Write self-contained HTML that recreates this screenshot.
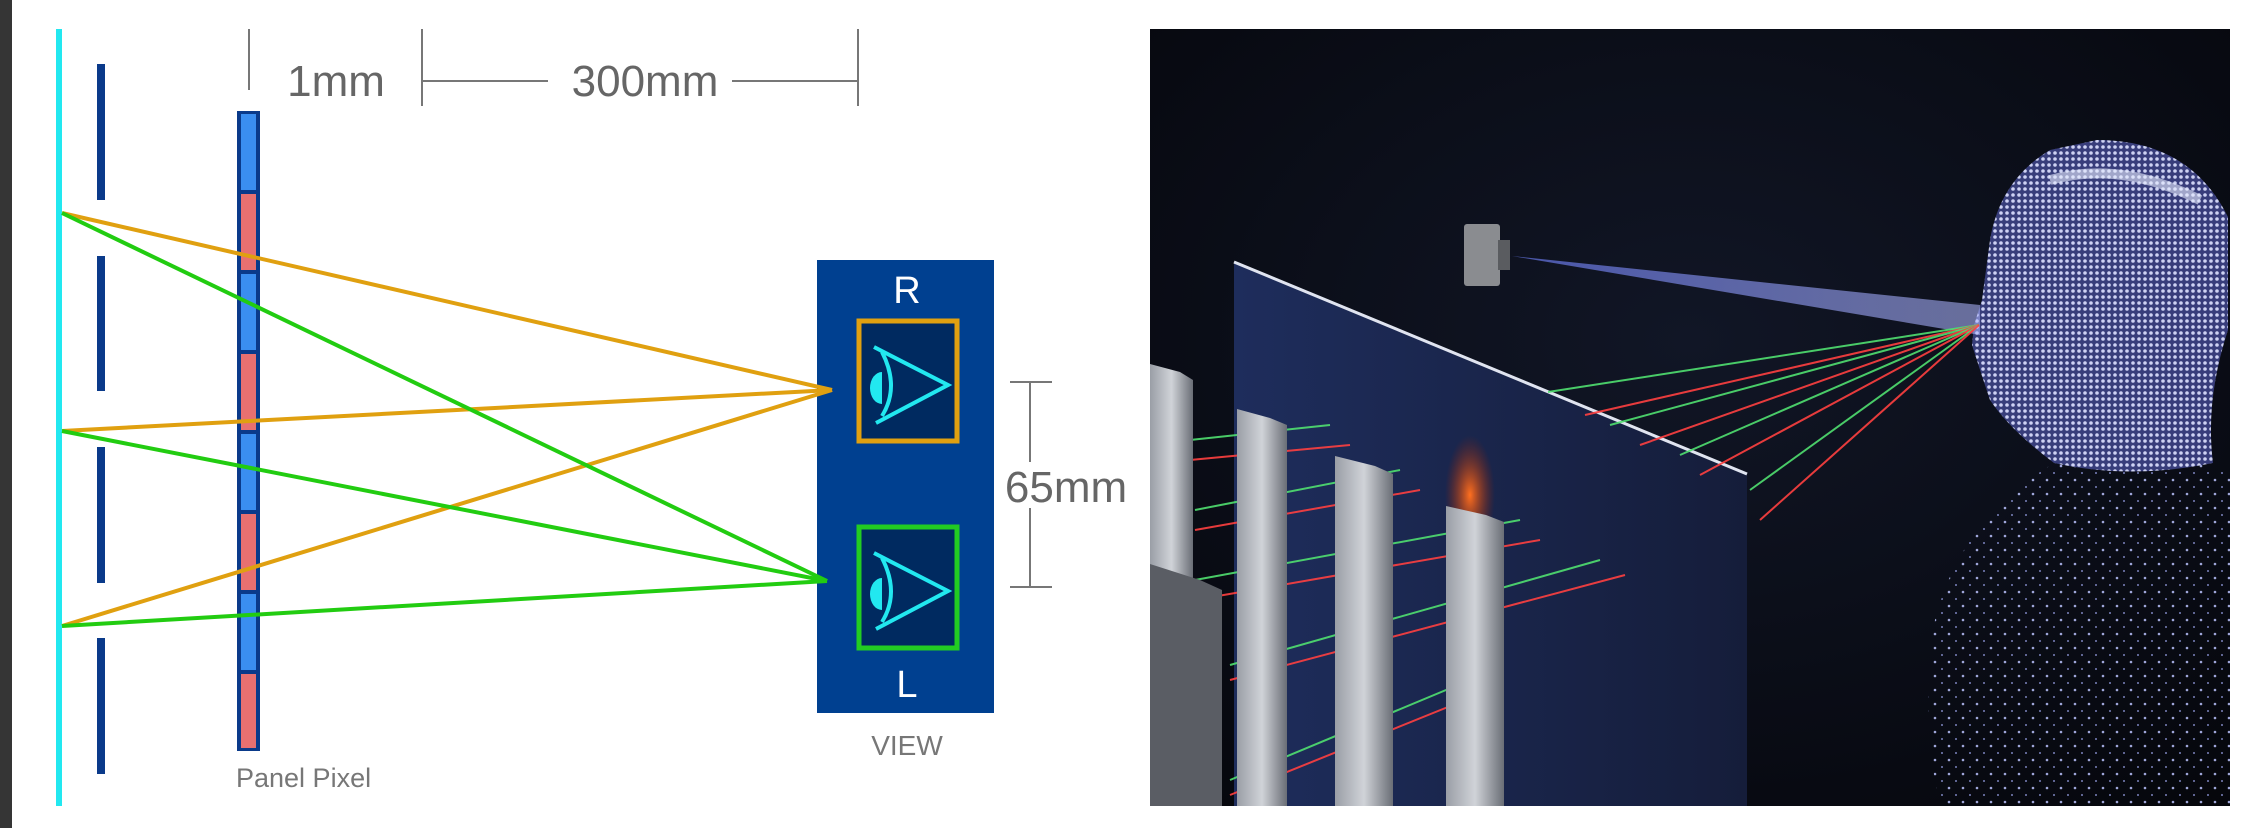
<!DOCTYPE html>
<html><head><meta charset="utf-8"><style>
html,body{margin:0;padding:0;background:#fff;width:2268px;height:828px;overflow:hidden}
svg{display:block}
text{font-family:"Liberation Sans",sans-serif}
</style></head><body>
<svg width="2268" height="828" viewBox="0 0 2268 828" xmlns="http://www.w3.org/2000/svg">
<defs>
<clipPath id="photo"><rect x="1150" y="29" width="1080" height="777"/></clipPath>
<radialGradient id="bg" cx="0.5" cy="0.4" r="0.8"><stop offset="0" stop-color="#111626"/><stop offset="1" stop-color="#05060b"/></radialGradient>
<linearGradient id="panel" x1="0" y1="0" x2="1" y2="0"><stop offset="0" stop-color="#1e2d5c"/><stop offset="1" stop-color="#151d3a"/></linearGradient>
<linearGradient id="bar" x1="0" y1="0" x2="1" y2="0"><stop offset="0" stop-color="#9a9ea6"/><stop offset="0.5" stop-color="#d0d3d8"/><stop offset="1" stop-color="#6a6e76"/></linearGradient>
<pattern id="dots" width="6" height="6" patternUnits="userSpaceOnUse"><rect width="6" height="6" fill="#3a4080"/><circle cx="3" cy="3" r="1.8" fill="#d8dcff"/></pattern>
<pattern id="sdots" width="14" height="14" patternUnits="userSpaceOnUse"><circle cx="3" cy="4" r="1.3" fill="#b0b8f0"/><circle cx="10" cy="11" r="1" fill="#8890d0"/></pattern>
<radialGradient id="fire" cx="0.5" cy="0.5" r="0.5"><stop offset="0" stop-color="#ff7020"/><stop offset="1" stop-color="#a02000" stop-opacity="0"/></radialGradient>
<linearGradient id="beam" x1="0" y1="0" x2="1" y2="0"><stop offset="0" stop-color="#6070e0" stop-opacity="0.9"/><stop offset="1" stop-color="#b0b8ff" stop-opacity="0.7"/></linearGradient>
</defs>
<rect x="0" y="0" width="12" height="828" fill="#353535"/>
<g stroke="#777" stroke-width="2">
<line x1="249" y1="29" x2="249" y2="90"/>
<line x1="422" y1="29" x2="422" y2="106"/>
<line x1="858" y1="29" x2="858" y2="106"/>
<line x1="422" y1="81" x2="548" y2="81"/>
<line x1="732" y1="81" x2="858" y2="81"/>
<line x1="1030" y1="382" x2="1030" y2="462"/>
<line x1="1030" y1="508" x2="1030" y2="587"/>
<line x1="1010" y1="382" x2="1052" y2="382"/>
<line x1="1010" y1="587" x2="1052" y2="587"/>
</g>
<g fill="#666" font-size="44">
<text x="336" y="96" text-anchor="middle">1mm</text>
<text x="645" y="96" text-anchor="middle">300mm</text>
<text x="1066" y="502" text-anchor="middle">65mm</text>
</g>
<text x="907" y="755" font-size="28" fill="#777" text-anchor="middle">VIEW</text>
<text x="236" y="787" font-size="27" fill="#777">Panel Pixel</text>
<rect x="56" y="29" width="6" height="777" fill="#22e8f0"/>
<g fill="#0a3a8a">
<rect x="97" y="64" width="8" height="136"/>
<rect x="97" y="256" width="8" height="135"/>
<rect x="97" y="447" width="8" height="136"/>
<rect x="97" y="638" width="8" height="136"/>
</g>
<rect x="237" y="111" width="23" height="640" fill="#0a3a8a"/>
<g stroke="#0a3a8a" stroke-width="2">
<rect x="240" y="113" width="17" height="78" fill="#3a8ef0"/>
<rect x="240" y="193" width="17" height="78" fill="#e87070"/>
<rect x="240" y="273" width="17" height="78" fill="#3a8ef0"/>
<rect x="240" y="353" width="17" height="78" fill="#e87070"/>
<rect x="240" y="433" width="17" height="78" fill="#3a8ef0"/>
<rect x="240" y="513" width="17" height="78" fill="#e87070"/>
<rect x="240" y="593" width="17" height="78" fill="#3a8ef0"/>
<rect x="240" y="673" width="17" height="76" fill="#e87070"/>
</g>
<rect x="817" y="260" width="177" height="453" fill="#004090"/>
<text x="907" y="303" font-size="38" fill="#fff" text-anchor="middle">R</text>
<text x="907" y="697" font-size="38" fill="#fff" text-anchor="middle">L</text>
<rect x="859" y="321" width="98" height="120" fill="#002a60" stroke="#e0a010" stroke-width="5"/>
<rect x="859" y="527" width="98" height="121" fill="#002a60" stroke="#22cc22" stroke-width="5"/>
<g stroke="#22e8f0" stroke-width="4" fill="none">
<polyline points="874,347 948,385 876,423"/>
<path d="M882,352 Q900,387 882,416"/>
<polyline points="874,553 948,591 876,629"/>
<path d="M882,558 Q900,593 882,622"/>
</g>
<g fill="#22e8f0">
<path d="M882,372 A12,16 0 0 0 882,404 Z"/>
<path d="M882,578 A12,16 0 0 0 882,610 Z"/>
</g>
<g stroke="#e0a010" stroke-width="4">
<line x1="62" y1="213" x2="832" y2="390"/>
<line x1="62" y1="431" x2="832" y2="390"/>
<line x1="62" y1="626" x2="832" y2="390"/>
</g>
<g stroke="#22cc11" stroke-width="4">
<line x1="62" y1="213" x2="827" y2="581"/>
<line x1="62" y1="431" x2="827" y2="581"/>
<line x1="62" y1="626" x2="827" y2="581"/>
</g>
<g clip-path="url(#photo)">
<rect x="1150" y="29" width="1080" height="777" fill="url(#bg)"/>
<path d="M2054,463 Q1960,520 1935,620 Q1920,720 1940,806 L2230,806 L2230,470 Q2215,470 2200,463 Z" fill="url(#sdots)" opacity="0.9"/>
<path d="M2097,140 Q2190,140 2228,217 L2228,330 Q2205,400 2213,463 Q2130,480 2054,463 Q2010,430 1990,400 L1982,376 L1972,345 L1974,325 L1982,300 L1990,240 Q2000,180 2050,150 Z" fill="url(#dots)" opacity="0.95"/>
<path d="M2050,180 Q2120,160 2200,200" stroke="#e8ecff" stroke-width="10" fill="none" opacity="0.6"/>
<path d="M1512,256 L1980,305 L1980,335 Z" fill="url(#beam)" opacity="0.8"/>
<rect x="1464" y="224" width="36" height="62" rx="3" fill="#8a8c90"/>
<rect x="1498" y="240" width="12" height="30" fill="#5a5c60"/>
<polygon points="1234,262 1747,474 1747,806 1234,806" fill="url(#panel)"/>
<line x1="1234" y1="262" x2="1747" y2="474" stroke="#e0e4f0" stroke-width="3"/>
<ellipse cx="1470" cy="495" rx="25" ry="60" fill="url(#fire)"/>
<g stroke-width="2" opacity="0.9">
<line x1="1979" y1="325" x2="1548" y2="392" stroke="#50e070"/>
<line x1="1979" y1="325" x2="1585" y2="415" stroke="#ff4040"/>
<line x1="1979" y1="325" x2="1610" y2="425" stroke="#50e070"/>
<line x1="1979" y1="325" x2="1640" y2="445" stroke="#ff4040"/>
<line x1="1979" y1="325" x2="1680" y2="455" stroke="#50e070"/>
<line x1="1979" y1="325" x2="1700" y2="475" stroke="#ff4040"/>
<line x1="1979" y1="325" x2="1750" y2="490" stroke="#50e070"/>
<line x1="1979" y1="325" x2="1760" y2="520" stroke="#ff4040"/>
<line x1="1190" y1="440" x2="1330" y2="425" stroke="#50e070"/>
<line x1="1190" y1="460" x2="1350" y2="445" stroke="#ff4040"/>
<line x1="1195" y1="510" x2="1400" y2="470" stroke="#50e070"/>
<line x1="1195" y1="530" x2="1420" y2="490" stroke="#ff4040"/>
<line x1="1195" y1="580" x2="1520" y2="520" stroke="#50e070"/>
<line x1="1195" y1="600" x2="1540" y2="540" stroke="#ff4040"/>
<line x1="1230" y1="665" x2="1600" y2="560" stroke="#50e070"/>
<line x1="1230" y1="680" x2="1625" y2="575" stroke="#ff4040"/>
<line x1="1230" y1="780" x2="1470" y2="680" stroke="#50e070"/>
<line x1="1230" y1="795" x2="1490" y2="690" stroke="#ff4040"/>
</g>
<g fill="url(#bar)">
<polygon points="1150,364 1180,372 1193,380 1193,579 1150,579"/>
<polygon points="1237,409 1270,418 1287,425 1287,806 1237,806"/>
<polygon points="1335,456 1375,466 1393,474 1393,806 1335,806"/>
<polygon points="1446,506 1486,515 1504,522 1504,806 1446,806"/>
</g>
<polygon points="1150,564 1200,580 1222,590 1222,806 1150,806" fill="#5a5d64"/>
</g>
</svg>
</body></html>
